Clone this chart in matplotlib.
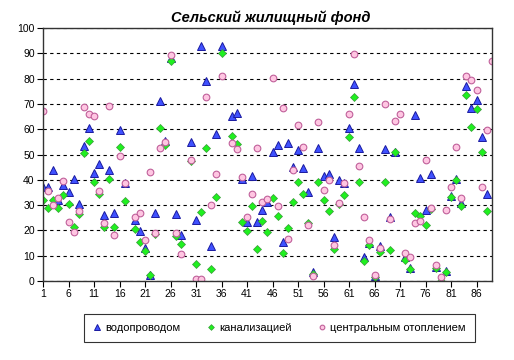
import matplotlib.pyplot as plt
import numpy as np

nan = np.nan

# региональные значения, %
water = [37, 37, 44, 32, 38, 35, 40.4, 30.4, 53.4, 60.5,
         42.6, 46.3, 26.1, 44, 26.9, 59.8, 38.8, nan, 24.1, 19.6,
         13.1, 2.5, 26.8, 71.2, 55.5, 88, 26.5, 18.3, nan, 54.9,
         24.1, 92.8, 79, 14, 58, 92.8, nan, 65.1, 66.4, 40.4,
         23.4, 41.4, 23.3, 27.9, 31.2, 50.9, 53.8, 15.4, 54.6, 45,
         51.7, 44.7, 35.2, 3.7, 52.4, 41.4, 42.2, 17.3, 39.8, 38.8,
         60.5, 77.8, 52.5, 9.6, 15.1, 1.8, 13.8, 52.2, 25.2, 51,
         nan, 9.5, 5, 65.5, 40.7, 28, 42.2, 5.5, 0, 4,
         33.6, 40.2, 30.8, 77, 68.3, 71.4, 56.9, 34.3, nan]

sewer = [32.1, 29, 32, 28.9, 34, 30.5, 21.3, 26.4, 50.7, 55.2,
         39.2, 34.4, 21.5, 40.3, 21.3, 53, 31.7, nan, 20.6, 15.4,
         11.9, 2.4, 18.5, 60.5, 53.8, 87, 17.9, 14.6, nan, 47.5,
         6.7, 27.1, 52.5, 4.6, 33.2, 90.2, nan, 57.4, 54, 23.4,
         19.8, 29.8, 12.6, 23.7, 19.3, 32.8, 25.7, 11, 21, 31.3,
         39.1, 34.5, 23, 2.8, 39.1, 32, 27.7, 12.5, 30.5, 34,
         57, 72.8, 39.1, 7.9, 14.2, 1.5, 11.4, 39.1, 12.3, 51,
         nan, 8.2, 4.6, 27, 25.7, 22.2, 28.5, 5, 0, 3.6,
         33.2, 40, 29.8, 73.7, 60.9, 68.1, 51, 27.7, nan]

heating = [67.1, 35.4, 30.1, 32.8, 39.4, 23.5, 19.2, 27.8, 68.7, 66.2,
           65.1, 35.4, 22.8, 69.1, 18.3, 49.3, 38.6, nan, 25.2, 26.7,
           16.3, 43, 18.8, 52.6, 54.8, 89.2, 18.8, 10.8, nan, 47.7,
           0.9, 0.9, 72.7, 29.9, 42.5, 81, nan, 54.5, 52, 41,
           25.5, 34.3, 52.5, 31.1, 32.3, 80.3, 29.6, 68.4, 16.8, 43.8,
           61.5, 52.8, 22.1, 2.1, 62.7, 36.1, 40, 14.4, 30.7, 38.9,
           65.9, 89.8, 45.4, 25.2, 16.4, 2.5, 13.2, 69.9, 24.4, 63.1,
           65.9, 11, 9.4, 22.8, 23.6, 47.7, 28.9, 6.4, 1.6, 27.9,
           37, 52.9, 32.8, 81, 79.4, 75.7, 37, 59.6, 86.9]

regions = np.arange(1, len(water) + 1)
x_ticks = list(range(1, 90, 5))

plt.rcParams['font.family'] = ['Liberation Sans', 'DejaVu Sans']

fig = plt.figure(figsize=(5.14, 3.6), dpi=100)
ax = fig.add_axes([0.0837, 0.2194, 0.8733, 0.7026])

ax.plot(regions, water, linestyle='none', marker='^', markersize=6,
        markerfacecolor='#3f51ff', markeredgecolor='#1a1aa0', markeredgewidth=0.7,
        label='водопроводом')
ax.plot(regions, sewer, linestyle='none', marker='D', markersize=4.2,
        markerfacecolor='#1ff01f', markeredgecolor='#3a9a3a', markeredgewidth=0.5,
        label='канализацией')
ax.plot(regions, heating, linestyle='none', marker='o', markersize=4.8,
        markerfacecolor='#ffc6e2', markeredgecolor='#c0609a', markeredgewidth=0.8,
        label='центральным отоплением')

ax.set_xlim(1, 89)
ax.set_ylim(0, 100)
ax.set_yticks(range(0, 101, 10))
ax.set_xticks(x_ticks)
ax.tick_params(labelsize=7.5, length=4, width=0.8, direction='out', pad=2)
ax.grid(axis='y', color='black', linestyle=(0, (3, 3)), linewidth=0.8)
ax.set_axisbelow(True)
for s in ax.spines.values():
    s.set_color('#333333')
    s.set_linewidth(1)

fig.text(0.527, 0.952, 'Сельский жилищный фонд', ha='center', va='center',
         fontsize=10.5, fontweight='bold', fontstyle='italic')

leg = fig.legend(loc='center', bbox_to_anchor=(0.543, 0.089), ncol=3,
                 fontsize=8, frameon=True, fancybox=False, handlelength=0.8,
                 handletextpad=0.3, columnspacing=2.4, borderpad=0.8,
                 markerscale=0.7)
leg.get_frame().set_edgecolor('black')
leg.get_frame().set_linewidth(0.8)

fig.savefig('out.png', dpi=100)
